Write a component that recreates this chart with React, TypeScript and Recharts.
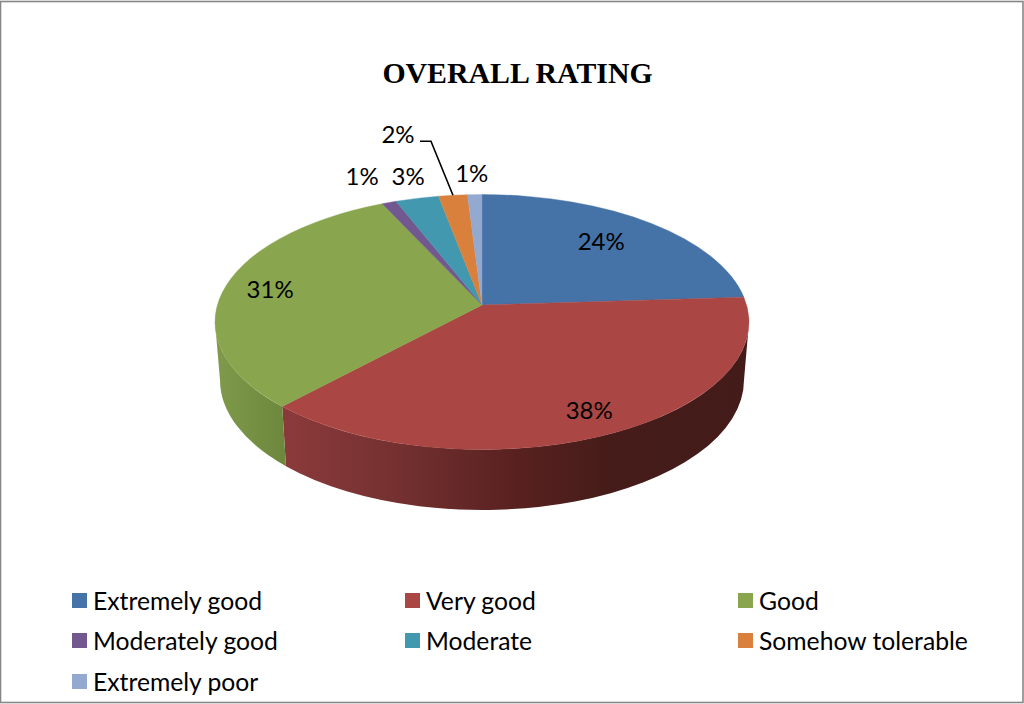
import { PieChart, Pie, Legend } from 'recharts';

const categories = ['Extremely good', 'Very good', 'Good', 'Moderately good', 'Moderate', 'Somehow tolerable', 'Extremely poor'];
const shares = [24, 38, 31, 1, 3, 2, 1];
const colors = ['#4572A7', '#AA4643', '#89A54E', '#71588F', '#4198AF', '#D9813C', '#93A9CF'];
const wallFills = ['#35567e', 'url(#wallRed)', 'url(#wallGreen)', '#54426b', '#317283', '#a4622e', '#6e7f9b'];

const rows = categories.map((name, i) => ({ name, value: shares[i], fill: colors[i] }));

/* label spot relative to where the slice's middle ray meets the rim */
const labelOffsets = [[-45, 19], [-20, -25], [44, 3], [-27, -27], [-9, -23], [-55, -62], [-3, -22]];

const W = 1024, H = 704;
const CX = 482, CY = 322, RX = 267, RY = 127.5;
const APEX = 17;                    // apex sits above the ellipse centre (perspective)
const BOT_RX = 262, BOT_RY = 130, BOT_CY = 380;
const FONT = 'Lato, sans-serif';

const rad = (d: number) => (d * Math.PI) / 180;

// a = degrees clockwise from top; the ray leaves the apex and hits the top ellipse
function rim(a: number) {
  const px = 0, py = -APEX / RY;
  const dx = Math.sin(rad(a)), dy = -Math.cos(rad(a));
  const b = px * dx + py * dy;
  const s = -b + Math.sqrt(b * b - (px * px + py * py - 1));
  const ex = px + s * dx, ey = py + s * dy;
  return { x: CX + ex * RX, y: CY + ey * RY, t: ((Math.atan2(ex, -ey) * 180) / Math.PI + 360) % 360 };
}

function topPt(t: number) { return [CX + RX * Math.sin(rad(t)), CY - RY * Math.cos(rad(t))]; }
function botPt(t: number) { return [CX + BOT_RX * Math.sin(rad(t)), BOT_CY - BOT_RY * Math.cos(rad(t))]; }

function Slice(props: any) {
  const a0 = 90 - props.startAngle, a1 = 90 - props.endAngle;
  const p0 = rim(a0), p1 = rim(a1);
  const large = a1 - a0 > 180 ? 1 : 0;
  const top = `M${CX},${CY - APEX} L${p0.x},${p0.y} A${RX},${RY} 0 ${large} 1 ${p1.x},${p1.y} Z`;
  const t0 = Math.max(p0.t, 90);
  const t1 = p1.t < 1 ? 360 : Math.min(p1.t, 270);
  let wall = null;
  if (t1 > t0 && p0.t < 270) {
    const [ax, ay] = topPt(t0), [bx, by] = topPt(t1), [cx, cy] = botPt(t1), [dx, dy] = botPt(t0);
    wall = `M${ax},${ay} A${RX},${RY} 0 0 1 ${bx},${by} L${cx},${cy} A${BOT_RX},${BOT_RY} 0 0 0 ${dx},${dy} Z`;
  }
  return (
    <g>
      {wall && <path d={wall} fill={wallFills[props.index]} />}
      <path d={top} fill={props.fill} stroke={props.fill} strokeWidth={0.4} />
    </g>
  );
}

function SliceLabel(props: any) {
  const i = props.index;
  const e = rim(90 - props.midAngle);
  const [ox, oy] = labelOffsets[i];
  const x = e.x + ox, y = e.y + oy;
  return (
    <g>
      {i === 5 && (
        <path d={`M${e.x},${e.y} L${e.x - 22},${e.y - 54} L${e.x - 33},${e.y - 54}`} fill="none" stroke="#000" strokeWidth={1.6} />
      )}
      <text x={x} y={y} textAnchor="middle" dominantBaseline="central" fontFamily={FONT} fontSize={24} fill="#000">
        {props.value}%
      </text>
    </g>
  );
}

function LegendGrid({ payload }: any) {
  return (
    <div style={{ display: 'grid', gridTemplateColumns: 'repeat(3, 333px)', gridAutoRows: '40.5px', fontFamily: FONT, fontSize: 24.7, color: '#000' }}>
      {(payload || []).map((p: any) => (
        <div key={p.value} style={{ display: 'flex', alignItems: 'center', whiteSpace: 'nowrap' }}>
          <span style={{ width: 15, height: 15, background: p.color, marginRight: 6, flex: 'none' }} />
          {p.value}
        </div>
      ))}
    </div>
  );
}

export default function App() {
  return (
    <div style={{ position: 'absolute', left: 0, top: 0, width: W, height: H, background: '#fff' }}>
      <style>{'body{margin:0}'}</style>
      <PieChart width={W} height={H} margin={{ top: 0, right: 0, bottom: 0, left: 0 }}>
        <defs>
          <linearGradient id="wallRed" gradientUnits="userSpaceOnUse" x1="283" y1="0" x2="749" y2="0">
            <stop offset="0%" stopColor="#8b3a3b" />
            <stop offset="25%" stopColor="#743030" />
            <stop offset="50%" stopColor="#582120" />
            <stop offset="70%" stopColor="#451c19" />
            <stop offset="100%" stopColor="#431b18" />
          </linearGradient>
          <linearGradient id="wallGreen" gradientUnits="userSpaceOnUse" x1="215" y1="0" x2="285" y2="0">
            <stop offset="0%" stopColor="#7f9a4a" />
            <stop offset="100%" stopColor="#6d883d" />
          </linearGradient>
        </defs>
        <rect x={0.5} y={1.5} width={W - 1.5} height={H - 3} fill="none" stroke="#868686" strokeWidth={1.6} />
        <text x={517.5} y={83} textAnchor="middle" fontFamily="'Liberation Serif', serif" fontWeight="bold" fontSize={29.8} fill="#000">
          OVERALL RATING
        </text>
        <Pie
          data={rows}
          dataKey="value"
          nameKey="name"
          cx={CX}
          cy={CY}
          outerRadius={RX}
          startAngle={90}
          endAngle={-270}
          shape={Slice}
          label={SliceLabel}
          labelLine={false}
          stroke="none"
          isAnimationActive={false}
        />
        <Legend itemSorter={null} content={LegendGrid as any} wrapperStyle={{ left: 72, top: 580, width: 1000, bottom: 'auto' }} />
      </PieChart>
    </div>
  );
}
